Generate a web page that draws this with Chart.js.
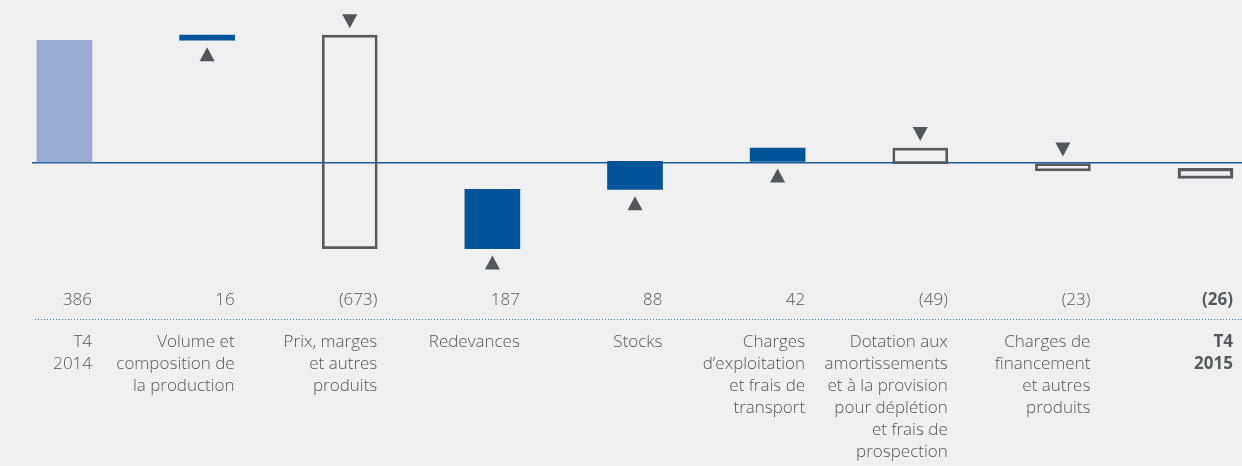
<!DOCTYPE html>
<html>
  <head>
    <meta charset="utf-8" />
    <title>Pont T4 2014 - T4 2015</title>
    <script src="https://cdn.jsdelivr.net/npm/chart.js"></script>
    <style>
      html, body { margin: 0; padding: 0; background: #f0f0f0; }
      #grafico { width: 1242px; height: 466px; }
    </style>
  </head>
  <body>
    <div id="grafico"><canvas id="pont"></canvas></div>

    <script>
      // Données du graphique
      const categories = [
        ["T4", "2014"],
        ["Volume et", "composition de", "la production"],
        ["Prix, marges", "et autres", "produits"],
        ["Redevances"],
        ["Stocks"],
        ["Charges", "d’exploitation", "et frais de", "transport"],
        ["Dotation aux", "amortissements", "et à la provision", "pour déplétion", "et frais de", "prospection"],
        ["Charges de", "financement", "et autres", "produits"],
        ["T4", "2015"],
      ];
      const valueLabels = ["386", "16", "(673)", "187", "88", "42", "(49)", "(23)", "(26)"];
      // début et fin de chaque barre (cumul)
      const barStart = [0, 386, 402, -271, -84, 4, 46, -3, -18];
      const barEnd = [386, 402, -271, -84, 4, 46, -3, -26, -50];

      const dernier = categories.length - 1;
      const gris = "#58595b";
      const police = "'Open Sans', 'Noto Sans', sans-serif";

      function typeBarre(i) {
        if (i === 0) return "total";
        if (i === dernier) return "final";
        return barEnd[i] > barStart[i] ? "hausse" : "baisse";
      }

      function indices(escala) {
        escala.ticks = categories.map((c, i) => ({ value: i }));
      }

      // triangles au-dessus / au-dessous des barres de variation
      const triangles = {
        id: "triangles",
        afterDatasetsDraw(chart) {
          const ctx = chart.ctx;
          const meta = chart.getDatasetMeta(0);
          ctx.save();
          ctx.fillStyle = "#53565a";
          meta.data.forEach((barre, i) => {
            const t = typeBarre(i);
            if (t === "total" || t === "final") return;
            const { x, y, base } = barre.getProps(["x", "y", "base"], true);
            const haut = Math.min(y, base);
            const bas = Math.max(y, base);
            ctx.beginPath();
            if (t === "hausse") {
              const p = bas + 7;
              ctx.moveTo(x, p);
              ctx.lineTo(x + 7.5, p + 14);
              ctx.lineTo(x - 7.5, p + 14);
            } else {
              const p = haut - 7;
              ctx.moveTo(x, p);
              ctx.lineTo(x + 7.5, p - 14);
              ctx.lineTo(x - 7.5, p - 14);
            }
            ctx.closePath();
            ctx.fill();
          });
          ctx.restore();
        },
      };

      // ligne pointillée entre les valeurs et les libellés (haut de l'axe x)
      const pointilles = {
        id: "pointilles",
        afterDraw(chart) {
          const ax = chart.scales.x;
          const ctx = chart.ctx;
          const y = Math.round(ax.top) - 0.5;
          ctx.save();
          ctx.strokeStyle = "#3c7cc0";
          ctx.lineWidth = 1;
          ctx.setLineDash([1, 2]);
          ctx.beginPath();
          ctx.moveTo(ax.left + 3, y);
          ctx.lineTo(ax.right, y);
          ctx.stroke();
          ctx.restore();
        },
      };

      const dados = {
        datasets: [
          {
            data: categories.map((c, i) => ({ x: i, y: [barStart[i], barEnd[i]] })),
            xAxisID: "x",
            barThickness: 55,
            borderSkipped: false,
            backgroundColor: (c) => {
              const t = typeBarre(c.dataIndex);
              if (t === "total") return "#99acd3";
              if (t === "hausse") return "#00559a";
              return "rgba(0,0,0,0)";
            },
            borderColor: gris,
            borderWidth: (c) => {
              const t = typeBarre(c.dataIndex);
              if (t === "final") return 2.5;
              return t === "baisse" ? 2 : 0;
            },
          },
        ],
      };

      const config = {
        type: "bar",
        data: dados,
        plugins: [triangles, pointilles],
        options: {
          responsive: true,
          maintainAspectRatio: false,
          animation: false,
          layout: { padding: { left: 32, right: 0, top: 0, bottom: 0 } },
          plugins: { legend: { display: false }, tooltip: { enabled: false } },
          scales: {
            y: {
              type: "linear",
              min: -370,
              max: 513,
              afterBuildTicks: (escala) => { escala.ticks = [{ value: 0 }]; },
              ticks: { display: false },
              border: { display: false },
              grid: { drawTicks: false, color: "#1d5a9b", lineWidth: 1.5 },
            },
            xv: {
              type: "linear",
              position: "bottom",
              weight: 0,
              offset: false,
              min: -0.2279,
              max: 8.2559,
              afterBuildTicks: indices,
              grid: { display: false, drawTicks: false, offset: false },
              border: { display: false },
              ticks: {
                autoSkip: false,
                maxRotation: 0,
                minRotation: 0,
                align: "end",
                labelOffset: 27.5,
                padding: 9,
                color: gris,
                font: (c) => ({
                  family: police,
                  size: 17,
                  weight: c.index === dernier ? "bold" : "300",
                  lineHeight: "22px",
                }),
                callback: (v) => valueLabels[v],
              },
            },
            x: {
              type: "linear",
              position: "bottom",
              weight: 1,
              offset: false,
              min: -0.2279,
              max: 8.2559,
              afterBuildTicks: indices,
              afterFit: (escala) => { escala.height = 146; },
              grid: { display: false, drawTicks: false, offset: false },
              border: { display: false },
              ticks: {
                autoSkip: false,
                maxRotation: 0,
                minRotation: 0,
                align: "end",
                labelOffset: 27.5,
                padding: 11,
                color: gris,
                font: (c) => ({
                  family: police,
                  size: 17,
                  weight: c.index === dernier ? "bold" : "300",
                  lineHeight: "22px",
                }),
                callback: (v) => categories[v],
              },
            },
          },
        },
      };

      let graficoPont = new Chart(document.getElementById("pont"), config);
    </script>
  </body>
</html>
